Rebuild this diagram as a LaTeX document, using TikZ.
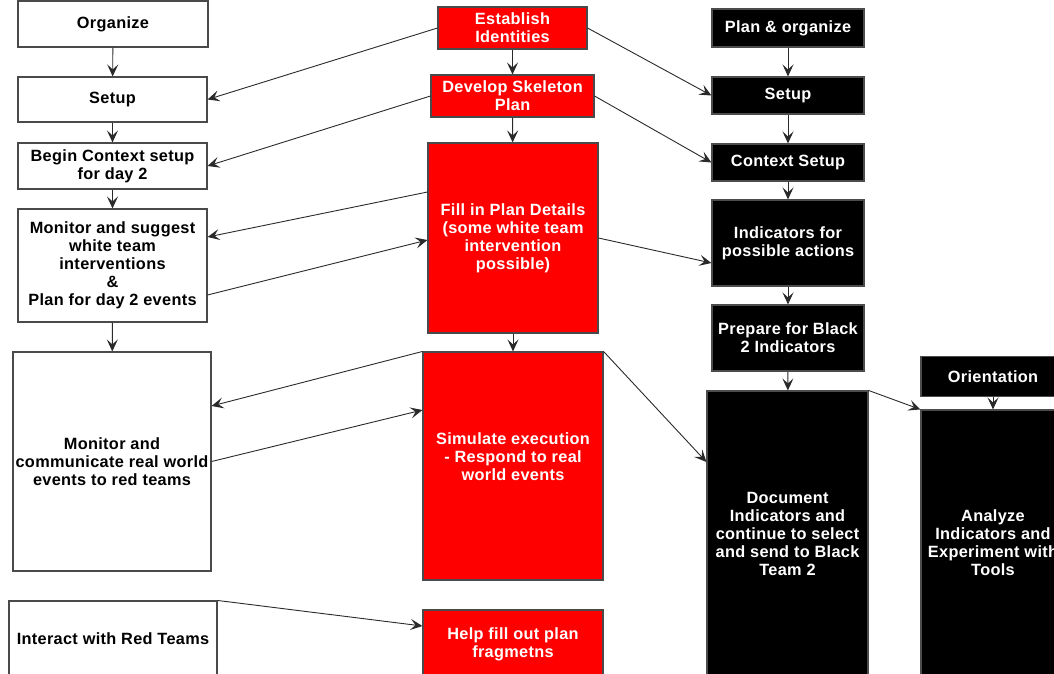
\documentclass[tikz,border=0pt]{standalone}
\usepackage{fontspec}
\setmainfont[LetterSpace=2]{Liberation Sans}
\usetikzlibrary{arrows.meta,calc}
\definecolor{boxred}{HTML}{FF0000}
\definecolor{edgegray}{HTML}{4A4A4A}
\definecolor{linegray}{HTML}{2A2A2A}
\tikzset{
  base/.style={rectangle, inner sep=0pt, align=center, line width=1.1pt,
    font=\fontsize{16.3}{18}\selectfont\bfseries},
  wbox/.style={base, draw=edgegray, fill=white, text=black},
  rbox/.style={base, draw=edgegray, fill=boxred, text=white},
  kbox/.style={base, draw=gray!60!black, fill=black, text=white},
  arr/.style={draw=linegray, line width=0.9pt,
    -{Stealth[length=12pt,width=11pt,inset=5pt,line width=1.2pt]}},
}
\begin{document}
\begin{tikzpicture}[x=1pt,y=-1pt]
\useasboundingbox (0,0) rectangle (1054,673);
% left column (white)
\node[wbox, minimum width=190pt, minimum height=46pt] (org) at (113,24) {Organize};
\node[wbox, minimum width=189pt, minimum height=45pt] (setL) at (112.5,99.5) {Setup};
\node[wbox, minimum width=189pt, minimum height=46pt] (beg) at (112.5,166) {Begin Context setup\\for day 2};
\node[wbox, minimum width=189pt, minimum height=113pt] (mons) at (112.5,265.5) {Monitor and suggest\\white team\\interventions\\\&\\Plan for day 2 events};
\node[wbox, minimum width=198pt, minimum height=219pt] (monc) at (112,461.5) {Monitor and\\communicate real world\\events to red teams};
\node[wbox, minimum width=208pt, minimum height=76pt] (inter) at (113,639) {Interact with Red Teams};
% middle column (red)
\node[rbox, minimum width=149pt, minimum height=42pt] (est) at (512.5,28) {Establish\\Identities};
\node[rbox, minimum width=163pt, minimum height=42pt] (dev) at (512.5,96) {Develop Skeleton\\Plan};
\node[rbox, minimum width=170pt, minimum height=190pt] (fill) at (513,238) {Fill in Plan Details\\(some white team\\intervention\\possible)};
\node[rbox, minimum width=180pt, minimum height=228pt] (sim) at (513,466) {Simulate execution\\- Respond to real\\world events\\\mbox{}};
\node[rbox, minimum width=180pt, minimum height=68pt] (help) at (513,644) {Help fill out plan\\fragmetns};
% right column (black)
\node[kbox, minimum width=152pt, minimum height=38pt] (plan) at (788,28) {Plan \& organize};
\node[kbox, minimum width=152pt, minimum height=37pt] (setR) at (788,95.5) {Setup};
\node[kbox, minimum width=152pt, minimum height=37pt] (ctx) at (788,162.5) {Context Setup};
\node[kbox, minimum width=152pt, minimum height=86pt] (ind) at (788,243) {Indicators for\\possible actions};
\node[kbox, minimum width=152pt, minimum height=66pt] (prep) at (788,338) {Prepare for Black\\2 Indicators};
\node[kbox, minimum width=161pt, minimum height=285pt] (doc) at (787.5,533.5) {Document\\Indicators and\\continue to select\\and send to Black\\Team 2};
\node[kbox, minimum width=144pt, minimum height=40pt] (ori) at (993,376.5) {Orientation};
\node[kbox, minimum width=144pt, minimum height=266pt] (ana) at (993,543) {Analyze\\Indicators and\\Experiment with\\Tools};
% vertical connectors
\draw[arr] (org) -- (setL);
\draw[arr] (setL) -- (beg);
\draw[arr] (beg) -- (mons);
\draw[arr] (mons) -- (monc);
\draw[arr] (est) -- (dev);
\draw[arr] (dev) -- (fill);
\draw[arr] (fill) -- (sim);
\draw[arr] (plan) -- (setR);
\draw[arr] (setR) -- (ctx);
\draw[arr] (ctx) -- (ind);
\draw[arr] (ind) -- (prep);
\draw[arr] (prep) -- (doc);
\draw[arr] (ori) -- (ana);
% diagonal connectors
\draw[arr] (est.west) -- (setL.east);
\draw[arr] (dev.west) -- (beg.east);
\draw[arr] ($(fill.west)+(0,-46)$) -- ($(mons.east)+(0,-28.5)$);
\draw[arr] ($(mons.east)+(0,29.5)$) -- ($(fill.west)+(0,2)$);
\draw[arr] (sim.north west) -- ($(monc.east)+(0,-55.5)$);
\draw[arr] (monc.east) -- ($(sim.west)+(0,-56)$);
\draw[arr] (inter.north east) -- ($(help.west)+(0,-18)$);
\draw[arr] (est.east) -- (setR.west);
\draw[arr] (dev.east) -- (ctx.west);
\draw[arr] (fill.east) -- ($(ind.west)+(0,20)$);
\draw[arr] (sim.north east) -- ($(doc.west)+(0,-71.5)$);
\draw[arr] (doc.north east) -- (ana.north west);
\end{tikzpicture}
\end{document}
